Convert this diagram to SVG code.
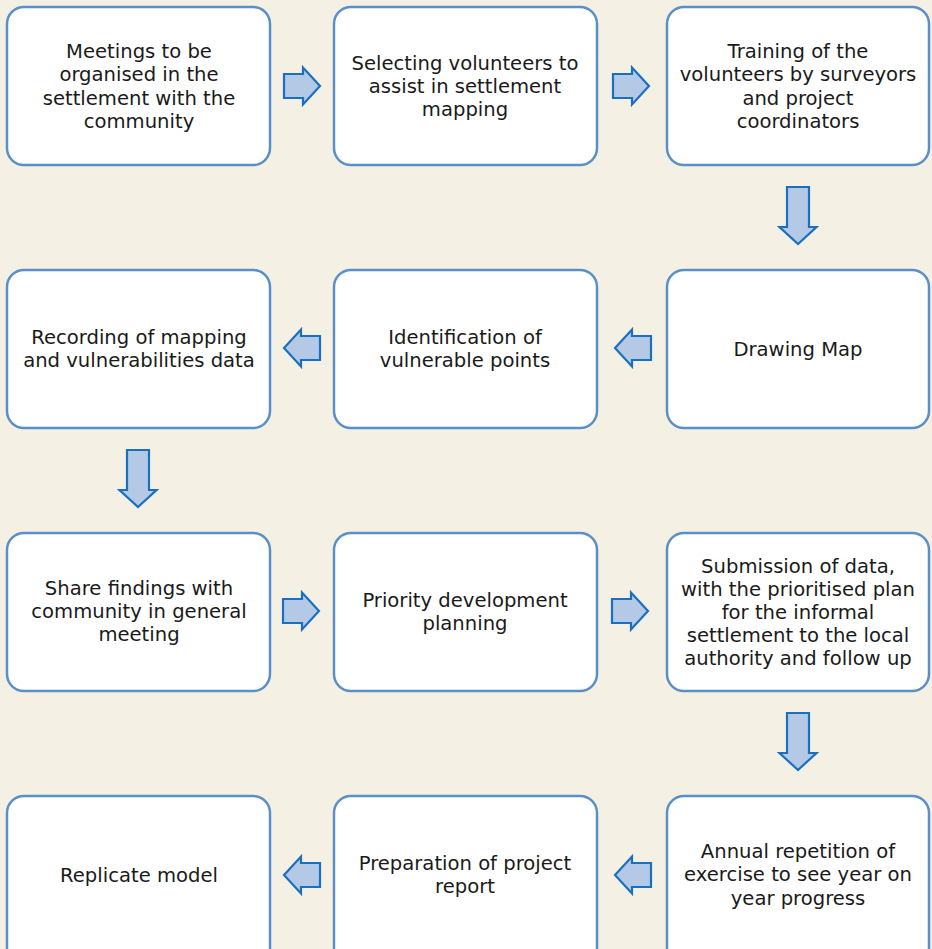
<svg xmlns="http://www.w3.org/2000/svg" width="932" height="949" viewBox="0 0 932 949">
<style>
.box{fill:#ffffff;stroke:#5b8fc7;stroke-width:2.5}
.arr{fill:#b4c9e6;stroke:#1a70c0;stroke-width:2.2;stroke-linejoin:miter}
text{font-family:"DejaVu Sans","Noto Sans",sans-serif;font-size:19.6px;fill:#1a1a1a;text-anchor:middle;dominant-baseline:central}
</style>
<rect x="0" y="0" width="932" height="949" fill="#f5f0e4"/>
<defs>
<path id="ra" d="M0,-12 H19 V-18.5 L36,0 L19,18.5 V12 H0 Z"/>
<path id="da" d="M-11,0 H11 V40 H18.5 L0,57 L-18.5,40 H-11 Z"/>
</defs>
<g id="n1"><rect class="box" x="7" y="7" width="263" height="158" rx="17"/><text x="139" y="51">Meetings to be</text><text x="139" y="74.5">organised in the</text><text x="139" y="98">settlement with the</text><text x="139" y="121.5">community</text></g>
<g id="n2"><rect class="box" x="334" y="7" width="263" height="158" rx="17"/><text x="465" y="63">Selecting volunteers to</text><text x="465" y="86">assist in settlement</text><text x="465" y="109">mapping</text></g>
<g id="n3"><rect class="box" x="667" y="7" width="262" height="158" rx="17"/><text x="798" y="51">Training of the</text><text x="798" y="74.5">volunteers by surveyors</text><text x="798" y="98">and project</text><text x="798" y="121.5">coordinators</text></g>
<g id="n4"><rect class="box" x="667" y="270" width="262" height="158" rx="17"/><text x="798" y="349">Drawing Map</text></g>
<g id="n5"><rect class="box" x="334" y="270" width="263" height="158" rx="17"/><text x="465" y="337">Identification of</text><text x="465" y="360">vulnerable points</text></g>
<g id="n6"><rect class="box" x="7" y="270" width="263" height="158" rx="17"/><text x="139" y="337">Recording of mapping</text><text x="139" y="360">and vulnerabilities data</text></g>
<g id="n7"><rect class="box" x="7" y="533" width="263" height="158" rx="17"/><text x="139" y="588">Share findings with</text><text x="139" y="611">community in general</text><text x="139" y="634">meeting</text></g>
<g id="n8"><rect class="box" x="334" y="533" width="263" height="158" rx="17"/><text x="465" y="600">Priority development</text><text x="465" y="623">planning</text></g>
<g id="n9"><rect class="box" x="667" y="533" width="262" height="158" rx="17"/><text x="798" y="566">Submission of data,</text><text x="798" y="589">with the prioritised plan</text><text x="798" y="612">for the informal</text><text x="798" y="635">settlement to the local</text><text x="798" y="658">authority and follow up</text></g>
<g id="n10"><rect class="box" x="667" y="796" width="262" height="170" rx="17"/><text x="798" y="851">Annual repetition of</text><text x="798" y="874.5">exercise to see year on</text><text x="798" y="898">year progress</text></g>
<g id="n11"><rect class="box" x="334" y="796" width="263" height="170" rx="17"/><text x="465" y="863">Preparation of project</text><text x="465" y="886">report</text></g>
<g id="n12"><rect class="box" x="7" y="796" width="263" height="170" rx="17"/><text x="139" y="875">Replicate model</text></g>
<g id="connectors">
<use href="#ra" class="arr" transform="translate(284,86)"/>
<use href="#ra" class="arr" transform="translate(613,86)"/>
<use href="#da" class="arr" transform="translate(798,187)"/>
<use href="#ra" class="arr" transform="translate(651,348) rotate(180)"/>
<use href="#ra" class="arr" transform="translate(320,348) rotate(180)"/>
<use href="#da" class="arr" transform="translate(138,450)"/>
<use href="#ra" class="arr" transform="translate(283,611)"/>
<use href="#ra" class="arr" transform="translate(612,611)"/>
<use href="#da" class="arr" transform="translate(798,713)"/>
<use href="#ra" class="arr" transform="translate(651,875) rotate(180)"/>
<use href="#ra" class="arr" transform="translate(320,875) rotate(180)"/>
</g>
</svg>
